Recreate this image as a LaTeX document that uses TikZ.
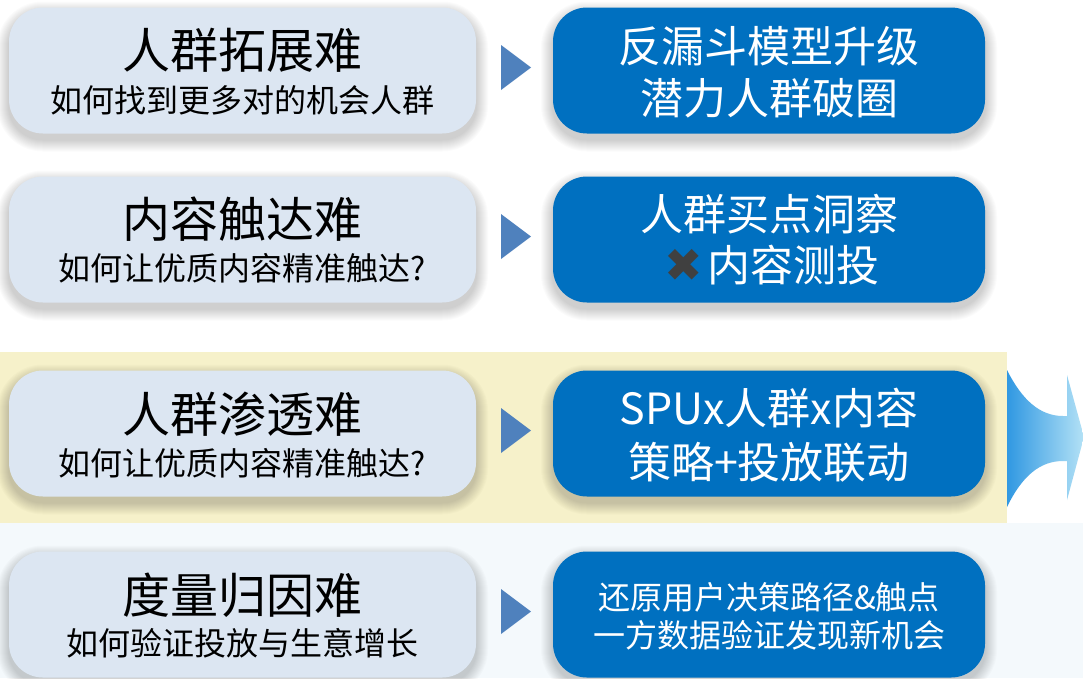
\documentclass[tikz,border=0pt]{standalone}
\usepackage{fontspec}
\setmainfont{Noto Sans CJK SC}
\newfontfamily\symfont{DejaVu Sans}
\definecolor{leftfill}{HTML}{DCE6F2}
\definecolor{rightfill}{HTML}{0070C0}
\definecolor{trifill}{HTML}{4F81BD}
\definecolor{bandyellow}{HTML}{F6F1CA}
\definecolor{bandblue}{HTML}{F4F9FC}
\definecolor{xgray}{HTML}{404040}
\definecolor{arrowdark}{HTML}{3098E2}
\definecolor{arrowlight}{HTML}{B4E2F6}
\newcommand\mysoftshadow[4]{%
  \foreach \i in {1,...,12}{%
    \fill[black,opacity=0.014,rounded corners={34pt+\i pt}]
      ({#1-#3/2-\i},{#2-#4/2-\i+6}) rectangle ({#1+#3/2+\i},{#2+#4/2+\i+6});
  }%
}
\begin{document}
\begin{tikzpicture}[x=1pt,y=-1pt,
  leftbox/.style={rounded corners=34pt,fill=leftfill,minimum width=467pt,minimum height=126pt,inner sep=0pt},
  rightbox/.style={rounded corners=34pt,fill=rightfill,minimum width=432pt,minimum height=126pt,inner sep=0pt},
  titletext/.style={font=\fontsize{48}{52}\selectfont,text=black,inner sep=0pt},
  subtext/.style={font=\fontsize{32}{36}\selectfont,text=black,inner sep=0pt},
  righttext/.style={font=\fontsize{43}{48}\selectfont,text=white,inner sep=0pt},
  smallrighttext/.style={font=\fontsize{32}{36}\selectfont,text=white,inner sep=0pt},
  marker/.style={fill=trifill}
]
\useasboundingbox (0,0) rectangle (1083,678);
% background bands
\fill[white] (0,0) rectangle (1083,678);
\fill[bandblue] (0,523) rectangle (1083,678);
\fill[bandyellow] (0,352) rectangle (1007,523);

% big arrow
\shade[left color=arrowdark,right color=arrowlight]
  (1007,370) .. controls (1022,400) and (1040,416) .. (1063,416)
  -- (1067,416) -- (1067,375) -- (1084,437) -- (1067,500) -- (1067,461)
  -- (1063,461) .. controls (1040,461) and (1022,476) .. (1007,507) -- cycle;

% soft shadows
\foreach \cy in {70.5,239.5,433.5,614.5}{
  \mysoftshadow{242.5}{\cy}{467}{126}
  \mysoftshadow{769}{\cy}{432}{126}
}

% left boxes
\node[leftbox] (l1) at (242.5,70.5) {};
\node[leftbox] (l2) at (242.5,239.5) {};
\node[leftbox] (l3) at (242.5,433.5) {};
\node[leftbox] (l4) at (242.5,614.5) {};

% right boxes
\node[rightbox] (r1) at (769,70.5) {};
\node[rightbox] (r2) at (769,239.5) {};
\node[rightbox] (r3) at (769,433.5) {};
\node[rightbox] (r4) at (769,614.5) {};

% left texts
\node[titletext] (l1t) at (242.5,50.5) {人群拓展难};
\node[subtext]   (l1s) at (242.5,100) {如何找到更多对的机会人群};
\node[titletext] (l2t) at (242.5,219.5) {内容触达难};
\node[subtext]   (l2s) at (242.5,268) {如何让优质内容精准触达?};
\node[titletext] (l3t) at (242.5,414.5) {人群渗透难};
\node[subtext]   (l3s) at (242.5,463.5) {如何让优质内容精准触达?};
\node[titletext] (l4t) at (242.5,595) {度量归因难};
\node[subtext]   (l4s) at (242.5,643) {如何验证投放与生意增长};

% right texts
\node[righttext] (r1a) at (769,46) {反漏斗模型升级};
\node[righttext] (r1b) at (769,98) {潜力人群破圈};
\node[righttext] (r2a) at (769,214) {人群买点洞察};
\node[righttext] (r2b) at (772,265) {{\symfont\color{xgray}\fontsize{46}{48}\selectfont ✖}\hspace{4pt}内容测投};
\node[righttext] (r3a) at (769,408) {SPUx人群x内容};
\node[righttext] (r3b) at (769,462) {策略+投放联动};
\node[smallrighttext] (r4a) at (769,597.5) {还原用户决策路径\&触点};
\node[smallrighttext] (r4b) at (769,635) {一方数据验证发现新机会};

% triangle markers between boxes
\foreach \c in {67.5,236.5,430.5,611.5}{
  \fill[marker] (501,\c-22.5) -- (531,\c) -- (501,\c+22.5) -- cycle;
}
\end{tikzpicture}
\end{document}
